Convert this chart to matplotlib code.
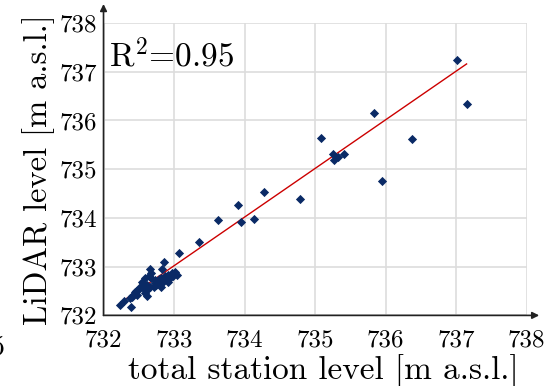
import numpy as np
import matplotlib
matplotlib.use('Agg')
from matplotlib import pyplot as plt

# total station level (x) vs LiDAR level (y), m a.s.l.
station = [
    732.59, 732.64, 732.68, 732.73, 732.78, 732.82, 732.87, 732.92, 732.97, 733.01,
    733.04, 732.99, 732.94, 732.90, 732.85, 732.80, 732.75, 732.71, 732.66, 732.61,
    732.565, 732.54, 732.52, 732.565, 732.61, 732.59, 732.49, 732.45, 732.40, 732.38,
    732.47, 732.73, 732.92, 732.82,
    733.07, 732.86, 732.66, 732.68, 732.83, 732.46, 732.40, 732.29, 732.24, 732.39, 732.61,
    733.36, 733.63, 733.95, 734.14, 733.91, 734.27, 734.78, 735.09,
    735.26, 735.32, 735.27, 735.41, 735.83, 735.95, 736.37, 737.02, 737.16,
]
lidar = [
    732.76, 732.80, 732.76, 732.73, 732.75, 732.76, 732.80, 732.83, 732.86, 732.90,
    732.83, 732.80, 732.76, 732.73, 732.69, 732.66, 732.62, 732.59, 732.59, 732.62,
    732.66, 732.69, 732.59, 732.56, 732.52, 732.45, 732.52, 732.49, 732.38, 732.35,
    732.42, 732.66, 732.69, 732.59,
    733.28, 733.10, 732.96, 732.86, 732.95, 732.51, 732.40, 732.30, 732.21, 732.18, 732.40,
    733.50, 733.95, 733.91, 733.97, 734.27, 734.53, 734.38, 735.64,
    735.31, 735.26, 735.18, 735.31, 736.16, 734.75, 735.62, 737.24, 736.33,
]
# regression line end points
fit_x = [732.26, 737.15]
fit_y = [732.28, 737.16]
r2_text = r'R$^2$=0.95'
ticks = [732, 733, 734, 735, 736, 737, 738]

plt.rcParams['font.family'] = 'cmr10'
plt.rcParams['mathtext.fontset'] = 'cm'
plt.rcParams['axes.formatter.use_mathtext'] = True

fig = plt.figure(figsize=(5.46, 3.86), dpi=100)
ax = fig.add_axes([0.1896, 0.1829, 0.7747, 0.7575])

ax.grid(True, color='#dddddd', linewidth=1.2)
ax.set_axisbelow(True)
ax.plot(fit_x, fit_y, color='#cc0000', linewidth=1.0, zorder=2)
ax.scatter(station, lidar, marker='D', s=22, color='#0a2a66', linewidths=0, zorder=3)

ax.set_xlim(732, 738)
ax.set_ylim(732, 738)
ax.set_xticks(ticks)
ax.set_yticks(ticks)
ax.set_xticklabels([str(t) for t in ticks])
ax.set_yticklabels([str(t) for t in ticks])
ax.tick_params(axis='both', length=0, labelsize=18)
ax.tick_params(axis='x', pad=10)
ax.tick_params(axis='y', pad=5)

for s in ax.spines.values():
    s.set_visible(False)
ax.annotate('', xy=(1.03, 0), xytext=(0, 0), xycoords='axes fraction',
            arrowprops=dict(arrowstyle='-|>', color='#222222', lw=1.2, mutation_scale=10,
                            shrinkA=0, shrinkB=0))
ax.annotate('', xy=(0, 1.065), xytext=(0, 0), xycoords='axes fraction',
            arrowprops=dict(arrowstyle='-|>', color='#222222', lw=1.2, mutation_scale=10,
                            shrinkA=0, shrinkB=0))

ax.text(0.012, 0.95, r2_text, transform=ax.transAxes, fontsize=24, va='top', ha='left')
ax.set_xlabel('total station level [m a.s.l.]', fontsize=24, labelpad=0)
ax.xaxis.set_label_coords(0.52, -0.133)
ax.set_ylabel('LiDAR level [m a.s.l.]', fontsize=23.5, labelpad=3)

# cut-off glyph at the left edge of the original figure
fig.text(-0.017, 0.10, '5', fontsize=20, va='center', ha='left')

fig.savefig('out.png', dpi=100)
